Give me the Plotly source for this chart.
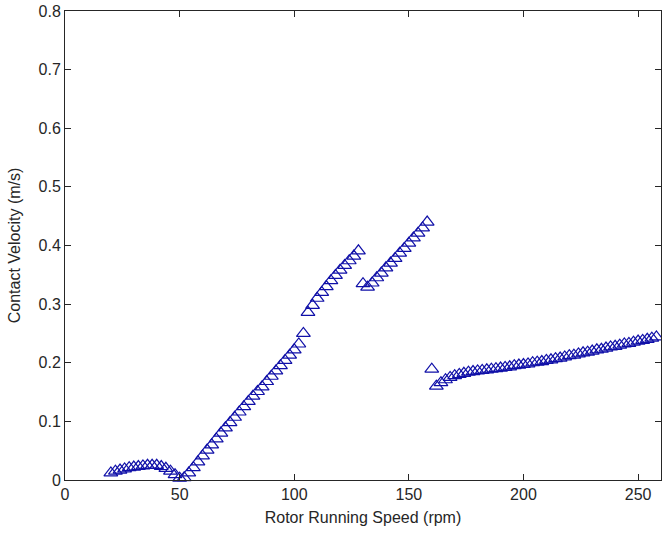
import plotly.graph_objects as go

# Rotor running speed (rpm)
speed = [
    20, 22, 24, 26, 28, 30, 32, 34, 36, 38, 40, 42, 44, 46, 48, 50,
    52, 54, 56, 58, 60, 62, 64, 66, 68, 70, 72, 74, 76, 78, 80, 82, 84, 86, 88, 90,
    92, 94, 96, 98, 100, 102, 104,
    106, 108, 110, 112, 114, 116, 118, 120, 122, 124, 126, 128,
    130, 132, 134, 136, 138, 140, 142, 144, 146, 148, 150, 152, 154, 156, 158,
    160, 162, 164, 166, 168, 170, 172, 174, 176, 178, 180, 182, 184, 186, 188, 190,
    192, 194, 196, 198, 200, 202, 204, 206, 208, 210, 212, 214, 216, 218, 220,
    222, 224, 226, 228, 230, 232, 234, 236, 238, 240, 242, 244, 246, 248, 250,
    252, 254, 256, 258,
]

# Contact velocity (m/s)
velocity = [
    0.012, 0.015, 0.017, 0.019, 0.021, 0.022, 0.023, 0.024, 0.025, 0.025, 0.025, 0.023, 0.020, 0.015, 0.009, 0.003,
    0.004, 0.012, 0.021, 0.031, 0.041, 0.051, 0.060, 0.070, 0.080, 0.089, 0.098, 0.107, 0.116, 0.125, 0.134, 0.143, 0.151, 0.159, 0.168, 0.177,
    0.186, 0.195, 0.204, 0.213, 0.222, 0.232, 0.250,
    0.286, 0.298, 0.310, 0.320, 0.330, 0.340, 0.349, 0.358, 0.366, 0.374, 0.382, 0.391,
    0.335, 0.329, 0.336, 0.345, 0.353, 0.362, 0.370, 0.378, 0.387, 0.395, 0.404, 0.413, 0.421, 0.430, 0.440,
    0.189, 0.160, 0.166, 0.171, 0.175, 0.178, 0.180, 0.182, 0.184, 0.185, 0.186, 0.187, 0.188, 0.189, 0.190, 0.191,
    0.192, 0.193, 0.195, 0.196, 0.197, 0.198, 0.200, 0.201, 0.202, 0.204, 0.205, 0.207, 0.208, 0.210, 0.212,
    0.213, 0.215, 0.217, 0.218, 0.220, 0.222, 0.223, 0.225, 0.227, 0.228, 0.230, 0.232, 0.233, 0.235, 0.237,
    0.238, 0.240, 0.242, 0.244,
]

x_ticks = [0, 50, 100, 150, 200, 250]
y_ticks = [0, 0.1, 0.2, 0.3, 0.4, 0.5, 0.6, 0.7, 0.8]

FONT = "Liberation Sans, Arial, sans-serif"
INK = "#262626"
MARK = "#1010a8"

fig = go.Figure()
fig.add_trace(go.Scatter(
    x=speed, y=velocity, mode="markers",
    marker=dict(symbol="triangle-up-open", size=12, color=MARK,
                line=dict(width=1.2, color=MARK)),
    cliponaxis=False, showlegend=False,
))

axis_common = dict(
    showline=True, linecolor=INK, linewidth=1, mirror="ticks",
    ticks="inside", ticklen=6, tickcolor=INK, tickwidth=1,
    showgrid=False, zeroline=False, ticklabeloverflow="allow",
    tickfont=dict(family=FONT, size=16, color=INK),
)

fig.update_xaxes(range=[0, 260], tickvals=x_ticks, ticktext=[str(v) for v in x_ticks],
                 title=dict(text="Rotor Running Speed (rpm)", standoff=9,
                            font=dict(family=FONT, size=16, color=INK)),
                 **axis_common)
fig.update_yaxes(range=[0, 0.8], tickvals=y_ticks, ticktext=[("0" if v == 0 else f"{v:g}") for v in y_ticks],
                 title=dict(text="Contact Velocity (m/s)", standoff=13,
                            font=dict(family=FONT, size=16, color=INK)),
                 **axis_common)

fig.update_layout(
    width=662, height=533,
    margin=dict(l=65, r=1, t=11, b=53, autoexpand=False),
    plot_bgcolor="white", paper_bgcolor="white",
)

# Remove the default page margin so the figure sits at the window's corner.
fig.write_html("out.html",
               config={"displayModeBar": False},
               post_script="document.body.style.margin='0';document.body.style.overflow='hidden';")
